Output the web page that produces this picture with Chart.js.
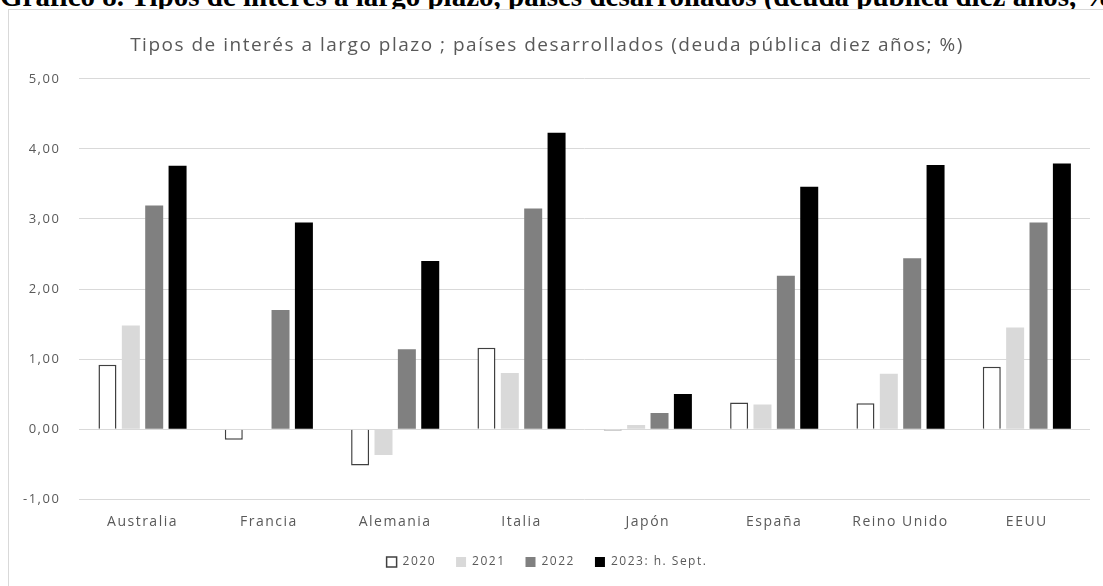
<!DOCTYPE html>
<html>
<head>
<meta charset="utf-8">
<script src="https://cdn.jsdelivr.net/npm/chart.js@4.4.1/dist/chart.umd.min.js"></script>
<style>
    body { margin: 0; background: #ffffff; overflow: hidden; }
    #wrap { position: relative; width: 1103px; height: 586px; overflow: hidden; }
    #heading {
        position: absolute; left: 0px; top: -20px; white-space: nowrap;
        font-family: "Liberation Serif", serif; font-weight: bold; font-size: 29px; color: #000;
    }
    #frame {
        position: absolute; left: 8px; top: 9px; width: 1120px; height: 600px;
        border: 1px solid #d9d9d9; box-sizing: border-box; background: #fff;
    }
    #chartBox { position: absolute; left: 0; top: 0; width: 1103px; height: 586px; }
</style>
</head>
<body>
<div id="wrap">
    <div id="heading">Gráfico 8. Tipos de interés a largo plazo, países desarrollados (deuda pública diez años, %)</div>
    <div id="frame"></div>
    <div id="chartBox"><canvas id="ratesChart"></canvas></div>
</div>
<script>
// Categories and series
const countries = ['Australia', 'Francia', 'Alemania', 'Italia', 'Japón', 'España', 'Reino Unido', 'EEUU'];
const rates2020 = [0.92, -0.15, -0.52, 1.16, -0.02, 0.38, 0.37, 0.89];
const rates2021 = [1.48, -0.01, -0.37, 0.80, 0.06, 0.35, 0.79, 1.45];
const rates2022 = [3.19, 1.70, 1.14, 3.15, 0.23, 2.19, 2.44, 2.95];
const rates2023 = [3.76, 2.95, 2.40, 4.23, 0.50, 3.46, 3.77, 3.79];
const seriesLabels = ['2020', '2021', '2022', '2023: h. Sept.'];
const yTicks = [-1, 0, 1, 2, 3, 4, 5];

const labelFont = '"Open Sans", "DejaVu Sans", sans-serif';
const textGrey = '#595959';

// the original text is a bit spread out, so widen the letters a little
const letterSpacingPlugin = {
    id: 'letterSpacing',
    beforeUpdate(chart) { chart.ctx.letterSpacing = '1.5px'; },
    beforeLayout(chart) { chart.ctx.letterSpacing = '1.5px'; },
    beforeDraw(chart) { chart.ctx.letterSpacing = '1.5px'; },
};

function makeSet(label, data, fill, border, width) {
    return {
        label: label,
        data: data,
        backgroundColor: fill,
        borderColor: border,
        borderWidth: width,
        barPercentage: 0.77,
        categoryPercentage: 0.74,
    };
}

const ctx = document.getElementById('ratesChart').getContext('2d');
const ratesChart = new Chart(ctx, {
    type: 'bar',
    data: {
        labels: countries,
        datasets: [
            makeSet(seriesLabels[0], rates2020, '#ffffff', '#404040', 1.5),
            makeSet(seriesLabels[1], rates2021, '#d9d9d9', '#d9d9d9', 0),
            makeSet(seriesLabels[2], rates2022, '#808080', '#808080', 0),
            makeSet(seriesLabels[3], rates2023, '#000000', '#000000', 0),
        ]
    },
    plugins: [letterSpacingPlugin],
    options: {
        responsive: true,
        maintainAspectRatio: false,
        animation: false,
        layout: { padding: { left: 4, right: 13, top: 34, bottom: 8 } },
        plugins: {
            title: {
                display: true,
                text: 'Tipos de interés a largo plazo ; países desarrollados (deuda pública diez años; %)',
                color: textGrey,
                font: { family: labelFont, size: 19, weight: 'normal' },
                padding: { top: 0, bottom: 22 },
            },
            legend: {
                position: 'bottom',
                labels: {
                    color: textGrey,
                    font: { family: labelFont, size: 12 },
                    boxWidth: 10,
                    boxHeight: 10,
                    padding: 20,
                },
            },
            tooltip: { enabled: false },
        },
        scales: {
            y: {
                min: yTicks[0],
                max: yTicks[yTicks.length - 1],
                afterBuildTicks: axis => { axis.ticks = yTicks.map(v => ({ value: v })); },
                ticks: {
                    color: textGrey,
                    font: { family: labelFont, size: 13 },
                    padding: 19,
                    callback: v => v.toFixed(2).replace('.', ','),
                },
                grid: { color: '#d9d9d9', lineWidth: 1, drawTicks: false },
                border: { display: false },
            },
            x: {
                ticks: {
                    color: textGrey,
                    font: { family: labelFont, size: 14 },
                    padding: 6,
                },
                grid: { display: false },
                border: { display: false },
            }
        }
    }
});
</script>
</body>
</html>
